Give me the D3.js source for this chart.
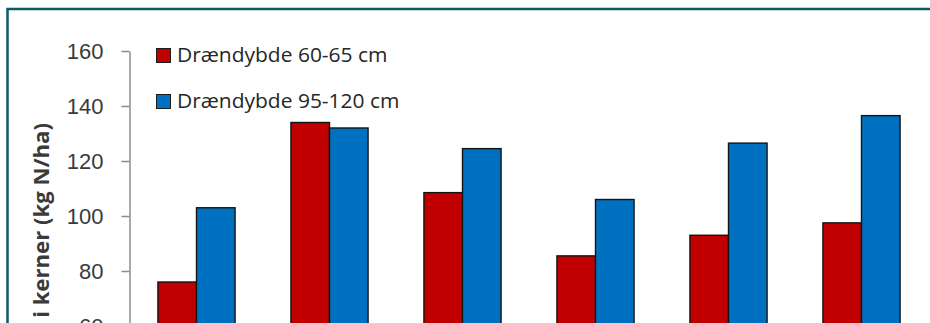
<!DOCTYPE html>
<html>
<head>
<meta charset="utf-8">
<script src="https://cdn.jsdelivr.net/npm/d3@7"></script>
<style>
  html, body { margin: 0; padding: 0; background: #ffffff; overflow: hidden; }
  svg { display: block; font-family: "Open Sans", "Noto Sans", sans-serif; }
</style>
</head>
<body>
<svg id="chart" width="930" height="323"></svg>
<script>
// ---- data (category labels are outside the visible crop) ----
const categories = ["1", "2", "3", "4", "5", "6"];
const seriesNames = ["Drændybde 60-65 cm", "Drændybde 95-120 cm"];
const shallow = [76, 134, 108.5, 85.5, 93, 97.5];
const deep = [103, 132, 124.5, 106, 126.5, 136.5];
const yTicks = [0, 20, 40, 60, 80, 100, 120, 140, 160];
const yTitle = "N i kerner (kg N/ha)";
const colors = ["#c00000", "#0070c0"];

const rows = categories.map((c, i) => ({ cat: c, values: [shallow[i], deep[i]] }));

const svg = d3.select("#chart");

// frame
svg.append("rect")
  .attr("x", 7.5).attr("y", 9)
  .attr("width", 1200).attr("height", 1200)
  .attr("fill", "none")
  .attr("stroke", "#0d5a62")
  .attr("stroke-width", 2.5);

const y = d3.scaleLinear().domain([0, 160]).range([491, 51]);
const x = d3.scaleBand().domain(categories).range([130, 928])
  .paddingInner(0.42).paddingOuter(0.21);
const xs = d3.scaleBand().domain([0, 1]).range([0, x.bandwidth()]).padding(0);

// bars
const g = svg.append("g");
rows.forEach(r => {
  g.selectAll(null)
    .data(r.values)
    .enter().append("rect")
    .attr("x", (d, j) => x(r.cat) + xs(j))
    .attr("y", d => y(d))
    .attr("width", xs.bandwidth())
    .attr("height", d => y(0) - y(d))
    .attr("fill", (d, j) => colors[j])
    .attr("stroke", "#141414")
    .attr("stroke-width", 1.4);
});

// y axis
const yAxis = d3.axisLeft(y).tickValues(yTicks).tickSize(8).tickPadding(18).tickSizeOuter(0);
const ya = svg.append("g").attr("transform", "translate(129.5,0)").call(yAxis);
ya.select(".domain").attr("stroke", "#8c8c8c").attr("stroke-width", 1.5);
ya.selectAll(".tick line").attr("stroke", "#8c8c8c").attr("stroke-width", 1.5);
ya.selectAll(".tick text")
  .attr("fill", "#3a3a3a")
  .style("font-size", "22px")
  .attr("dy", "0.36em");

// x axis (below visible area)
svg.append("g").attr("transform", `translate(0,${y(0)})`)
  .call(d3.axisBottom(x).tickSize(0))
  .selectAll("text").style("font-size", "18px");

// y title
const yt = svg.append("text")
  .attr("transform", "translate(49,123) rotate(-90)")
  .attr("text-anchor", "end")
  .attr("fill", "#3a3a3a")
  .style("font-size", "20.5px")
  .style("font-weight", "bold")
  .text(yTitle);
yt.attr("textLength", yt.node().getComputedTextLength() * 1.08)
  .attr("lengthAdjust", "spacingAndGlyphs");

// legend
const leg = svg.append("g");
seriesNames.forEach((name, i) => {
  const ly = 48.5 + i * 46;
  leg.append("rect")
    .attr("x", 156.5).attr("y", ly)
    .attr("width", 14).attr("height", 14)
    .attr("fill", colors[i])
    .attr("stroke", "#1c1c1c").attr("stroke-width", 1);
  const t = leg.append("text")
    .attr("x", 177).attr("y", ly + 13.5)
    .attr("fill", "#262626")
    .style("font-size", "19.5px")
    .text(name);
  t.attr("textLength", t.node().getComputedTextLength() * 1.075)
    .attr("lengthAdjust", "spacingAndGlyphs");
});
</script>
</body>
</html>
